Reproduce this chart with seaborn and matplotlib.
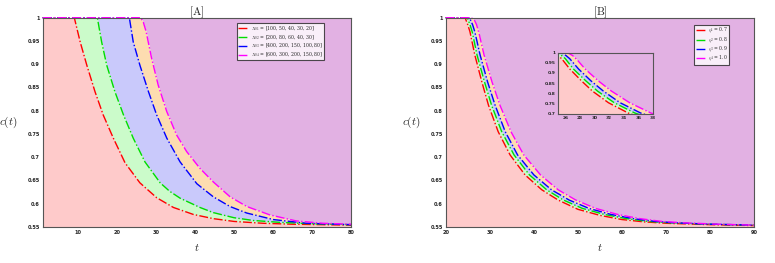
import numpy as np
import pandas as pd
import matplotlib
matplotlib.use("Agg")
import matplotlib.pyplot as plt
import seaborn as sns

# panel A: four delayed decay curves
tA_red = [1, 9.1, 10.6, 12.3, 14.4, 16.5, 19.1, 22.1, 25.9, 30.2, 34.5, 39.6, 44.7, 50, 57.5, 65, 80]
cA_red = [1, 1, 0.948, 0.898, 0.841, 0.791, 0.741, 0.688, 0.645, 0.613, 0.592, 0.577, 0.568, 0.562, 0.558, 0.556, 0.554]
tA_green = [1, 15.0, 16.1, 17.4, 19.5, 21.7, 24.2, 27.2, 31.1, 33.5, 36.2, 41.3, 44.7, 50, 55, 61.8, 70, 80]
cA_green = [1, 1, 0.948, 0.898, 0.841, 0.791, 0.741, 0.690, 0.645, 0.627, 0.612, 0.592, 0.581, 0.570, 0.564, 0.560, 0.557, 0.555]
tA_blue = [1, 23.2, 24.2, 25.9, 28.1, 30.2, 32.8, 36.2, 40.5, 44.7, 49, 53.3, 60.1, 68.6, 80]
cA_blue = [1, 1, 0.948, 0.898, 0.841, 0.791, 0.741, 0.690, 0.643, 0.615, 0.594, 0.580, 0.566, 0.558, 0.555]
tA_mag = [1, 26.1, 26.8, 27.5, 28.9, 30.6, 32.8, 35.3, 37.9, 41.3, 44.7, 49, 53.3, 59.2, 66, 72.8, 80]
cA_mag = [1, 1, 0.99, 0.970, 0.913, 0.855, 0.798, 0.748, 0.712, 0.676, 0.647, 0.615, 0.594, 0.576, 0.563, 0.558, 0.556]
labelsA = [r"$X_{01}$ = [100, 50, 40, 30, 20]",
           r"$X_{02}$ = [200, 80, 60, 40, 30]",
           r"$X_{03}$ = [400, 200, 150, 100, 80]",
           r"$X_{04}$ = [600, 300, 200, 150, 80]"]

# panel B: eta sweep
tB_red = [20, 24.4, 25.0, 25.5, 26.6, 28.2, 29.7, 31.9, 34.6, 38, 41.8, 45.5, 50, 55, 60, 65, 70, 80, 90]
cB_red = [1, 1, 0.985, 0.970, 0.920, 0.862, 0.812, 0.755, 0.705, 0.662, 0.630, 0.608, 0.588, 0.575, 0.566, 0.561, 0.558, 0.555, 0.553]
tB_green = [20, 24.9, 25.5, 26.0, 27.1, 28.8, 30.4, 32.7, 35.5, 39, 42.9, 46.7, 51, 56, 61, 66, 71, 80, 90]
cB_green = [1, 1, 0.985, 0.970, 0.920, 0.862, 0.812, 0.755, 0.705, 0.662, 0.630, 0.608, 0.590, 0.577, 0.568, 0.562, 0.559, 0.556, 0.554]
tB_blue = [20, 25.4, 26.1, 26.6, 27.8, 29.5, 31.2, 33.5, 36.3, 40, 44, 48, 52.5, 57.5, 62.5, 67.5, 72, 80, 90]
cB_blue = [1, 1, 0.985, 0.970, 0.920, 0.862, 0.812, 0.755, 0.705, 0.662, 0.630, 0.608, 0.590, 0.577, 0.568, 0.562, 0.559, 0.556, 0.554]
tB_mag = [20, 25.8, 26.5, 27.0, 27.6, 28.7, 30.5, 32.3, 34.8, 37.7, 41.5, 45.5, 49.5, 54, 59, 64, 69, 74, 82, 90]
cB_mag = [1, 1, 0.995, 0.985, 0.965, 0.920, 0.862, 0.812, 0.755, 0.705, 0.662, 0.630, 0.608, 0.590, 0.577, 0.568, 0.562, 0.559, 0.556, 0.554]
labelsB = [r"$\eta_1$ = 0.7", r"$\eta_2$ = 0.8", r"$\eta_3$ = 0.9", r"$\eta_4$ = 1.0"]

line_colors = ["#ff0000", "#00dd00", "#0000ff", "#ff00ff"]
band_colors = ["#fecaca", "#cbfbca", "#c9c9fb", "#fddcb0"]
top_color = "#e2b1e3"

sns.set_style("ticks")
plt.rcParams["mathtext.fontset"] = "cm"
plt.rcParams["font.family"] = ["DejaVu Sans"]

fig = plt.figure(figsize=(7.75, 2.63), dpi=100)
axA = fig.add_axes([42.7 / 775, 1 - 227 / 263, 308.3 / 775, 209.3 / 263])
axB = fig.add_axes([445.7 / 775, 1 - 227 / 263, 308.6 / 775, 209.3 / 263])
axI = fig.add_axes([558 / 775, 1 - 114 / 263, 95 / 775, 61.5 / 263])


def draw(ax, ts, cs, labels, legend):
    # fill from the top curve down so the bands stack
    ax.fill_between(ts[3], cs[3], 1, color=top_color, lw=0)
    for k in [3, 2, 1, 0]:
        ax.fill_between(ts[k], 0.55, cs[k], color=band_colors[k], lw=0)
    for k in range(4):
        df = pd.DataFrame({"t": ts[k], "c": cs[k]})
        sns.lineplot(data=df, x="t", y="c", ax=ax, color=line_colors[k],
                     linestyle="-.", lw=1.0, label=labels[k] if legend else None,
                     legend=False, clip_on=False)
    for s in ax.spines.values():
        s.set_color("#555555")
        s.set_linewidth(0.8)
    ax.tick_params(direction="in", length=2, width=0.5, labelsize=3.6, pad=2,
                   top=True, right=True)
    ax.set_xlabel("")
    ax.set_ylabel("")


yt = [0.55, 0.6, 0.65, 0.7, 0.75, 0.8, 0.85, 0.9, 0.95, 1]
ytl = ["0.55", "0.6", "0.65", "0.7", "0.75", "0.8", "0.85", "0.9", "0.95", "1"]

tsA = [tA_red, tA_green, tA_blue, tA_mag]
csA = [cA_red, cA_green, cA_blue, cA_mag]
draw(axA, tsA, csA, labelsA, True)
axA.set_xlim(1, 80)
axA.set_ylim(0.55, 1)
axA.set_xticks([10, 20, 30, 40, 50, 60, 70, 80])
axA.set_yticks(yt)
axA.set_yticklabels(ytl)

tsB = [tB_red, tB_green, tB_blue, tB_mag]
csB = [cB_red, cB_green, cB_blue, cB_mag]
draw(axB, tsB, csB, labelsB, True)
axB.set_xlim(20, 90)
axB.set_ylim(0.55, 1)
axB.set_xticks([20, 30, 40, 50, 60, 70, 80, 90])
axB.set_yticks(yt)
axB.set_yticklabels(ytl)

draw(axI, tsB, csB, labelsB, False)
axI.set_xlim(25, 38)
axI.set_ylim(0.7, 1)
axI.set_xticks([26, 28, 30, 32, 34, 36, 38])
axI.set_yticks([0.7, 0.75, 0.8, 0.85, 0.9, 0.95, 1])
axI.set_yticklabels(["0.7", "0.75", "0.8", "0.85", "0.9", "0.95", "1"])
axI.tick_params(labelsize=3.2, length=1.5, pad=1.5)
for ln in axI.get_lines():
    ln.set_clip_on(True)

for ax in (axA, axB, axI):
    for lab in ax.get_xticklabels() + ax.get_yticklabels():
        lab.set_fontweight("bold")

for ax, ttl in [(axA, r"$[\mathrm{A}]$"), (axB, r"$[\mathrm{B}]$")]:
    ax.set_title(ttl, fontsize=8, pad=2)
    ax.set_xlabel(r"$t$", fontsize=8, labelpad=5)
    ax.set_ylabel(r"$c(t)$", fontsize=8, rotation=0, labelpad=14, va="center")

legA = axA.legend(loc="upper right", bbox_to_anchor=(0.92, 0.985), fontsize=3.3,
                  frameon=True, fancybox=False, edgecolor="#222222",
                  handlelength=2.4, handletextpad=0.3, borderpad=0.25,
                  labelspacing=0.05)
legA.get_frame().set_linewidth(0.8)
legB = axB.legend(loc="upper right", bbox_to_anchor=(0.926, 0.975), fontsize=3.3,
                  frameon=True, fancybox=False, edgecolor="#222222",
                  handlelength=2.4, handletextpad=0.3, borderpad=0.25,
                  labelspacing=0.05)
legB.get_frame().set_linewidth(0.8)
for leg in (legA, legB):
    for t in leg.get_texts():
        t.set_family("serif")

fig.savefig("out.png", dpi=100, facecolor="white")
